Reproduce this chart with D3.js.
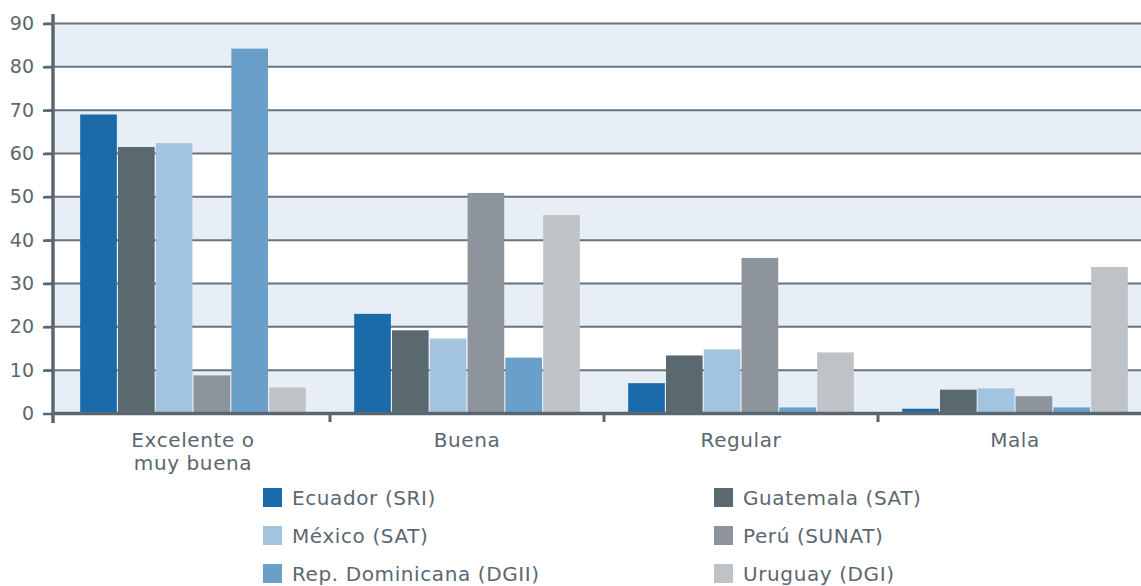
<!DOCTYPE html>
<html>
<head>
<meta charset="utf-8">
<script src="https://cdn.jsdelivr.net/npm/d3@7"></script>
<style>
  body { margin: 0; background: #fff; }
  svg text { font-family: "DejaVu Sans", sans-serif; fill: #5b6770; }
</style>
</head>
<body>
<div id="chart"></div>
<script>
// datos del gráfico
const categorias = ["Excelente o\nmuy buena", "Buena", "Regular", "Mala"];
const series = ["Ecuador (SRI)", "Guatemala (SAT)", "México (SAT)", "Perú (SUNAT)", "Rep. Dominicana (DGII)", "Uruguay (DGI)"];
const colores = ["#1b6aaa", "#5a6870", "#a3c4df", "#8d949b", "#6a9fc9", "#bec3c7"];
const ecuador   = [69.0, 23.0, 7.0, 1.1];
const guatemala = [61.5, 19.2, 13.4, 5.5];
const mexico    = [62.4, 17.3, 14.8, 5.8];
const peru      = [8.8, 50.9, 35.9, 4.0];
const repDom    = [84.2, 12.9, 1.4, 1.4];
const uruguay   = [6.0, 45.8, 14.1, 33.8];
const valores = [ecuador, guatemala, mexico, peru, repDom, uruguay];
const yTicks = [0, 10, 20, 30, 40, 50, 60, 70, 80, 90];

const W = 1141, H = 586;
const x0 = 53, yBase = 413.5, yTop = 23.5;

const svg = d3.select("#chart").append("svg")
  .attr("width", W).attr("height", H);

// bandas de categoría (las marcas del eje caen en 330, 604, 878)
const x = d3.scaleBand().domain(categorias).range([56, 56 + 274 * 4]).paddingInner(0).paddingOuter(0);
const xs = d3.scaleBand().domain(series).range([0, x.bandwidth()]).paddingInner(0.03).paddingOuter(0.64);
const y = d3.scaleLinear().domain([0, 90]).range([yBase, yTop]);

// bandas alternas
for (let i = 0; i < 9; i += 2) {
  svg.append("rect")
    .attr("x", x0).attr("width", W - x0)
    .attr("y", y(i * 10 + 10)).attr("height", y(i * 10) - y(i * 10 + 10))
    .attr("fill", "#e7eef6");
}

// líneas de la cuadrícula
svg.append("g").selectAll("line").data(yTicks.slice(1)).join("line")
  .attr("x1", x0 - 8).attr("x2", W)
  .attr("y1", d => y(d)).attr("y2", d => y(d))
  .attr("stroke", "#66737c").attr("stroke-width", 2);

// barras
const grupos = svg.append("g").selectAll("g").data(categorias).join("g")
  .attr("transform", d => `translate(${x(d)},0)`);
grupos.selectAll("rect")
  .data((c, ci) => series.map((s, si) => ({ s, si, v: valores[si][ci] })))
  .join("rect")
  .attr("x", d => xs(d.s))
  .attr("width", xs.bandwidth())
  .attr("y", d => y(d.v))
  .attr("height", d => yBase - y(d.v))
  .attr("fill", d => colores[d.si]);

// eje Y
const yAxis = svg.append("g").attr("transform", `translate(${x0},0)`)
  .call(d3.axisLeft(y).tickValues(yTicks).tickSize(10).tickPadding(9));
yAxis.select(".domain").remove();
yAxis.selectAll(".tick line").attr("stroke", "#5b6770").attr("stroke-width", 2.5);
yAxis.selectAll(".tick text").style("font-size", "19px").attr("fill", "#5b6770");
svg.append("line").attr("x1", x0).attr("x2", x0).attr("y1", 14).attr("y2", 423)
  .attr("stroke", "#5b6770").attr("stroke-width", 3.5);

// eje X
svg.append("line").attr("x1", x0).attr("x2", W).attr("y1", yBase).attr("y2", yBase)
  .attr("stroke", "#5b6770").attr("stroke-width", 3.5);
svg.append("g").selectAll("line").data(categorias.slice(1)).join("line")
  .attr("x1", d => x(d)).attr("x2", d => x(d))
  .attr("y1", yBase).attr("y2", 422)
  .attr("stroke", "#5b6770").attr("stroke-width", 3);

svg.append("g").selectAll("text").data(categorias).join("text")
  .attr("x", d => x(d) + x.bandwidth() / 2)
  .attr("y", 447)
  .attr("text-anchor", "middle")
  .style("font-size", "20px")
  .style("letter-spacing", "0.6px")
  .each(function(d) {
    d.split("\n").forEach((t, i) => {
      d3.select(this).append("tspan")
        .attr("x", x(d) + x.bandwidth() / 2)
        .attr("dy", i === 0 ? 0 : 23)
        .text(t);
    });
  });

// leyenda
const leg = svg.append("g").selectAll("g").data(series).join("g")
  .attr("transform", (d, i) => `translate(${i % 2 === 0 ? 263 : 714},${488 + Math.floor(i / 2) * 38})`);
leg.append("rect").attr("width", 19).attr("height", 19).attr("fill", (d, i) => colores[i]);
leg.append("text").attr("x", 29).attr("y", 17)
  .style("font-size", "20px").style("letter-spacing", "0.6px").text(d => d);
</script>
</body>
</html>
